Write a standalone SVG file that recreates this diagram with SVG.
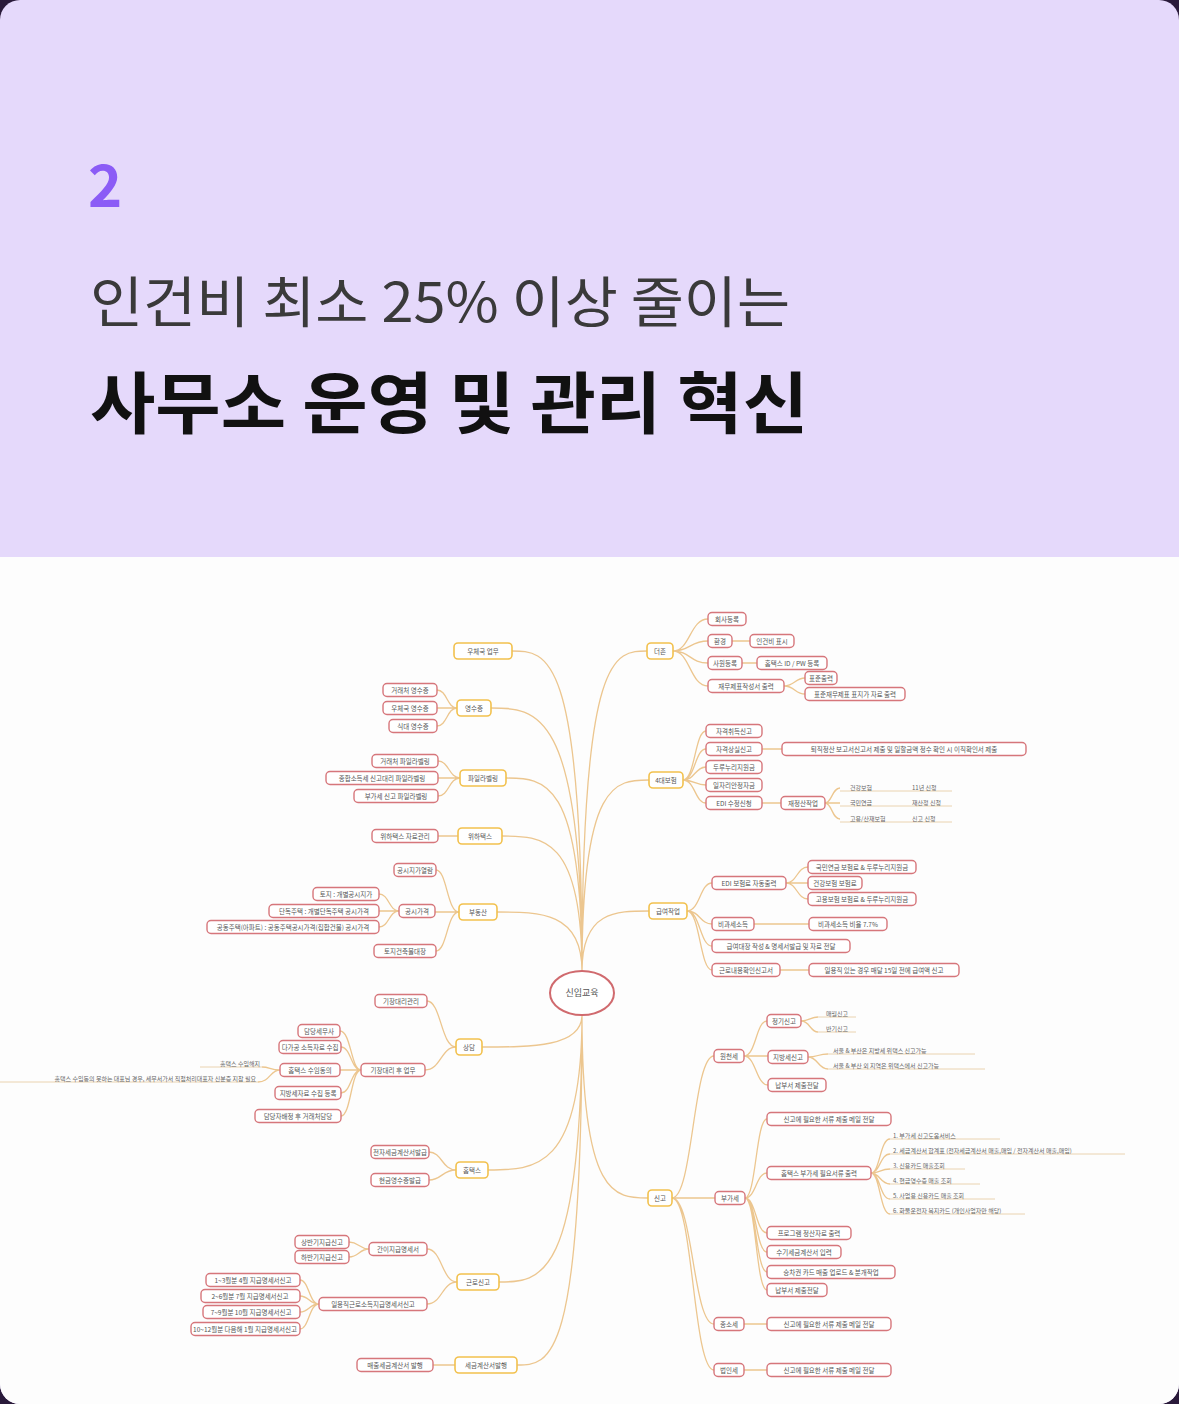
<svg xmlns="http://www.w3.org/2000/svg" width="1179" height="1404" viewBox="0 0 1179 1404">
<style>
.hd{font-family:"Noto Sans CJK KR",sans-serif}
.c{fill:none;stroke:#ecc68f;stroke-width:1.3}
.a rect{fill:#fff;stroke:#f2c14e;stroke-width:1.6}
.b rect{fill:#fff;stroke:#d6767b;stroke-width:1.4}
text.t{font-family:"Noto Sans CJK KR",sans-serif;font-size:6.5px;fill:#555;text-anchor:middle}
text.u{font-family:"Noto Sans CJK KR",sans-serif;font-size:6px;fill:#666}
.ul{stroke:#ead3b0;stroke-width:1}
</style>
<rect width="1179" height="1404" fill="#2a1a3a"/>
<rect width="1179" height="1404" rx="20" fill="#e5d9fb"/>
<path d="M0 557H1179V1384a20 20 0 0 1-20 20H20a20 20 0 0 1-20-20Z" fill="#fdfdfd"/>
<text class="hd" x="88" y="207" font-size="58" font-weight="700" fill="#8b5cf6">2</text>
<text class="hd" x="90" y="322" font-size="55" fill="#3a3a3a" textLength="700" lengthAdjust="spacingAndGlyphs">인건비 최소 25% 이상 줄이는</text>
<text class="hd" x="90" y="428" font-size="67" font-weight="700" fill="#111" textLength="718" lengthAdjust="spacingAndGlyphs">사무소 운영 및 관리 혁신</text>

<g id="connectors">
<path class="c" d="M582 971C582 651 547 651 512 651M582 971C582 708 536 708 491 708M582 971C582 778 544 778 506 778M582 971C582 836 542 836 502 836M582 971C582 912 540 912 497 912M582 1015C582 1047 532 1047 482 1047M582 1015C582 1170 535 1170 488 1170M582 1015C582 1282 540 1282 499 1282M582 1015C582 1365 550 1365 517 1365M582 971C582 651 615 651 647 651M582 971C582 780 616 780 649 780M582 971C582 911 616 911 649 911M582 1015C582 1198 615 1198 648 1198"/>
<path class="c" d="M673 651C690 651 690 619 708 619M673 651C690 651 690 641 708 641M673 651C690 651 690 663 708 663M673 651C690 651 690 686 708 686M732 641H750M742 663H757M784 686C795 686 795 678 805 678M784 686C795 686 795 694 805 694"/>
<path class="c" d="M683 780C695 780 695 731 706 731M683 780C695 780 695 749 706 749M683 780C695 780 695 767 706 767M683 780C695 780 695 785 706 785M683 780C695 780 695 803 706 803M762 749H782M762 803H781M825 803C832 803 832 788 840 788M825 803H840M825 803C832 803 832 819 840 819"/>
<path class="c" d="M687 911C700 911 700 883 712 883M687 911C700 911 700 924 712 924M687 911C700 911 700 946 712 946M687 911C700 911 700 970 712 970M786 883C797 883 797 867 808 867M786 883H808M786 883C797 883 797 899 808 899M754 924H809M780 970H809"/>
<path class="c" d="M672 1198C693 1198 693 1056 714 1056M744 1056C756 1056 756 1021 767 1021M744 1056H768M744 1056C756 1056 756 1085 768 1085M801 1021C810 1021 810 1017 818 1017M801 1021C810 1021 810 1032 818 1032M808 1057C818 1057 818 1054 828 1054M808 1057C818 1057 818 1069 828 1069"/>
<path class="c" d="M672 1198H715M745 1198C756 1198 756 1119 767 1119M745 1198C756 1198 756 1173 767 1173M745 1198C756 1198 756 1233 767 1233M745 1198C756 1198 756 1252 767 1252M745 1198C756 1198 756 1272 767 1272M745 1198C756 1198 756 1290 767 1290M871 1173C880 1173 880 1139 890 1139M871 1173C880 1173 880 1154 890 1154M871 1173C880 1173 880 1169 890 1169M871 1173C880 1173 880 1184 890 1184M871 1173C880 1173 880 1199 890 1199M871 1173C880 1173 880 1214 890 1214M672 1198C693 1198 693 1324 714 1324M672 1198C693 1198 693 1370 714 1370M744 1324H767M744 1370H767"/>
<path class="c" d="M457 708C447 708 447 690 437 690M457 708H437M457 708C447 708 447 726 437 726M460 778C449 778 449 761 438 761M460 778H438M460 778C449 778 449 796 438 796M458 836H438M459 912C447 912 447 870 436 870M459 912H435M459 912C447 912 447 951 436 951M399 911C389 911 389 894 379 894M399 911H379M399 911C389 911 389 927 379 927"/>
<path class="c" d="M456 1047C441 1047 441 1001 427 1001M456 1047C441 1047 441 1070 425 1070M361 1070C351 1070 351 1031 340 1031M361 1070C351 1070 351 1047 341 1047M361 1070H340M361 1070C351 1070 351 1093 341 1093M361 1070C351 1070 351 1116 341 1116M280 1070C270 1070 270 1067 262 1067M280 1070C270 1070 270 1082 258 1082"/>
<path class="c" d="M456 1170C442 1170 442 1152 429 1152M456 1170C442 1170 442 1180 429 1180M457 1282C442 1282 442 1249 427 1249M457 1282C442 1282 442 1304 427 1304M369 1249C359 1249 359 1242 349 1242M369 1249C359 1249 359 1257 349 1257M319 1304C309 1304 309 1280 300 1280M319 1304C309 1304 309 1296 300 1296M319 1304C309 1304 309 1312 300 1312M319 1304C309 1304 309 1329 300 1329M455 1365H433"/>
<path class="ul" d="M840 791H952M840 806H952M840 822H952M818 1017H856M818 1032H856M828 1054H975M828 1069H985M890 1139H1000M890 1154H1125M890 1169H965M890 1184H980M890 1199H995M890 1214H1025M262 1067H200M258 1082H0"/>
</g>

<g id="center"><ellipse cx="582" cy="993" rx="32" ry="22" fill="#fff" stroke="#d06a6e" stroke-width="2"/><text class="t" x="582" y="996" style="font-size:9px">신입교육</text></g>

<g id="n-post" class="a"><rect x="454" y="643" width="58" height="16" rx="4"/><text class="t" x="483" y="654">우체국 업무</text></g>
<g id="n-receipt" class="a"><rect x="457" y="700" width="34" height="16" rx="4"/><text class="t" x="474" y="711">영수증</text></g>
<g id="n-file" class="a"><rect x="460" y="770" width="46" height="16" rx="4"/><text class="t" x="483" y="781">파일라벨링</text></g>
<g id="n-wetax" class="a"><rect x="458" y="828" width="44" height="16" rx="4"/><text class="t" x="480" y="839">위하택스</text></g>
<g id="n-estate" class="a"><rect x="459" y="904" width="38" height="16" rx="4"/><text class="t" x="478" y="915">부동산</text></g>
<g id="n-consult" class="a"><rect x="456" y="1039" width="26" height="16" rx="4"/><text class="t" x="469" y="1050">상담</text></g>
<g id="n-hometax" class="a"><rect x="456" y="1162" width="32" height="16" rx="4"/><text class="t" x="472" y="1173">홈택스</text></g>
<g id="n-labor" class="a"><rect x="457" y="1274" width="42" height="16" rx="4"/><text class="t" x="478" y="1285">근로신고</text></g>
<g id="n-invoice" class="a"><rect x="455" y="1357" width="62" height="16" rx="4"/><text class="t" x="486" y="1368">세금계산서발행</text></g>
<g id="n-duzon" class="a"><rect x="647" y="643" width="26" height="16" rx="4"/><text class="t" x="660" y="654">더존</text></g>
<g id="n-ins" class="a"><rect x="649" y="772" width="34" height="16" rx="4"/><text class="t" x="666" y="783">4대보험</text></g>
<g id="n-pay" class="a"><rect x="649" y="903" width="38" height="16" rx="4"/><text class="t" x="668" y="914">급여작업</text></g>
<g id="n-report" class="a"><rect x="648" y="1190" width="24" height="16" rx="4"/><text class="t" x="660" y="1201">신고</text></g>

<g id="right-nodes" class="b">
<g id="r1"><rect x="708" y="612.5" width="38" height="13" rx="4"/><text class="t" x="727" y="621.5">회사등록</text></g>
<g id="r2"><rect x="708" y="634.5" width="24" height="13" rx="4"/><text class="t" x="720" y="643.5">환경</text></g>
<g id="r3"><rect x="750" y="634.5" width="44" height="13" rx="4"/><text class="t" x="772" y="643.5">인건비 표시</text></g>
<g id="r4"><rect x="708" y="656.5" width="34" height="13" rx="4"/><text class="t" x="725" y="665.5">사원등록</text></g>
<g id="r5"><rect x="757" y="656.5" width="70" height="13" rx="4"/><text class="t" x="792" y="665.5">홈택스 ID / PW 등록</text></g>
<g id="r6"><rect x="708" y="679.5" width="76" height="13" rx="4"/><text class="t" x="746" y="688.5">재무제표작성서 출력</text></g>
<g id="r7"><rect x="805" y="671.5" width="32" height="13" rx="4"/><text class="t" x="821" y="680.5">표준출력</text></g>
<g id="r8"><rect x="805" y="687.5" width="100" height="13" rx="4"/><text class="t" x="855" y="696.5">표준재무제표 표지가 자료 출력</text></g>
<g id="r9"><rect x="706" y="724.5" width="56" height="13" rx="4"/><text class="t" x="734" y="733.5">자격취득신고</text></g>
<g id="r10"><rect x="706" y="742.5" width="56" height="13" rx="4"/><text class="t" x="734" y="751.5">자격상실신고</text></g>
<g id="r11"><rect x="782" y="742.5" width="244" height="13" rx="4"/><text class="t" x="904" y="751.5">퇴직정산 보고서신고서 제출 및 일할금액 정수 확인 시 이직확인서 제출</text></g>
<g id="r12"><rect x="706" y="760.5" width="56" height="13" rx="4"/><text class="t" x="734" y="769.5">두루누리지원금</text></g>
<g id="r13"><rect x="706" y="778.5" width="56" height="13" rx="4"/><text class="t" x="734" y="787.5">일자리안정자금</text></g>
<g id="r14"><rect x="706" y="796.5" width="56" height="13" rx="4"/><text class="t" x="734" y="805.5">EDI 수정신청</text></g>
<g id="r15"><rect x="781" y="796.5" width="44" height="13" rx="4"/><text class="t" x="803" y="805.5">재정산작업</text></g>
<g id="r16"><rect x="712" y="876.5" width="74" height="13" rx="4"/><text class="t" x="749" y="885.5">EDI 보험료 자동출력</text></g>
<g id="r17"><rect x="808" y="860.5" width="108" height="13" rx="4"/><text class="t" x="862" y="869.5">국민연금 보험료 &amp; 두루누리지원금</text></g>
<g id="r18"><rect x="808" y="876.5" width="54" height="13" rx="4"/><text class="t" x="835" y="885.5">건강보험 보험료</text></g>
<g id="r19"><rect x="808" y="892.5" width="108" height="13" rx="4"/><text class="t" x="862" y="901.5">고용보험 보험료 &amp; 두루누리지원금</text></g>
<g id="r20"><rect x="712" y="917.5" width="42" height="13" rx="4"/><text class="t" x="733" y="926.5">비과세소득</text></g>
<g id="r21"><rect x="809" y="917.5" width="78" height="13" rx="4"/><text class="t" x="848" y="926.5">비과세소득 비율 7.7%</text></g>
<g id="r22"><rect x="712" y="939.5" width="138" height="13" rx="4"/><text class="t" x="781" y="948.5">급여대장 작성 &amp; 명세서발급 및 자료 전달</text></g>
<g id="r23"><rect x="712" y="963.5" width="68" height="13" rx="4"/><text class="t" x="746" y="972.5">근로내용확인신고서</text></g>
<g id="r24"><rect x="809" y="963.5" width="150" height="13" rx="4"/><text class="t" x="884" y="972.5">일용직 있는 경우 매달 15일 전에 급여액 신고</text></g>
<g id="r25"><rect x="714" y="1049.5" width="30" height="13" rx="4"/><text class="t" x="729" y="1058.5">원천세</text></g>
<g id="r26"><rect x="767" y="1014.5" width="34" height="13" rx="4"/><text class="t" x="784" y="1023.5">정기신고</text></g>
<g id="r27"><rect x="768" y="1050.5" width="40" height="13" rx="4"/><text class="t" x="788" y="1059.5">지방세신고</text></g>
<g id="r28"><rect x="768" y="1078.5" width="58" height="13" rx="4"/><text class="t" x="797" y="1087.5">납부서 제출전달</text></g>
<g id="r29"><rect x="715" y="1191.5" width="30" height="13" rx="4"/><text class="t" x="730" y="1200.5">부가세</text></g>
<g id="r30"><rect x="767" y="1112.5" width="124" height="13" rx="4"/><text class="t" x="829" y="1121.5">신고에 필요한 서류 제출 메일 전달</text></g>
<g id="r31"><rect x="767" y="1166.5" width="104" height="13" rx="4"/><text class="t" x="819" y="1175.5">홈택스 부가세 필요서류 출력</text></g>
<g id="r32"><rect x="767" y="1226.5" width="84" height="13" rx="4"/><text class="t" x="809" y="1235.5">프로그램 정산자료 출력</text></g>
<g id="r33"><rect x="767" y="1245.5" width="74" height="13" rx="4"/><text class="t" x="804" y="1254.5">수기세금계산서 입력</text></g>
<g id="r34"><rect x="767" y="1265.5" width="128" height="13" rx="4"/><text class="t" x="831" y="1274.5">승차권 카드 매출 업로드 &amp; 분개작업</text></g>
<g id="r35"><rect x="767" y="1283.5" width="60" height="13" rx="4"/><text class="t" x="797" y="1292.5">납부서 제출전달</text></g>
<g id="r36"><rect x="714" y="1317.5" width="30" height="13" rx="4"/><text class="t" x="729" y="1326.5">종소세</text></g>
<g id="r37"><rect x="767" y="1317.5" width="124" height="13" rx="4"/><text class="t" x="829" y="1326.5">신고에 필요한 서류 제출 메일 전달</text></g>
<g id="r38"><rect x="714" y="1363.5" width="30" height="13" rx="4"/><text class="t" x="729" y="1372.5">법인세</text></g>
<g id="r39"><rect x="767" y="1363.5" width="124" height="13" rx="4"/><text class="t" x="829" y="1372.5">신고에 필요한 서류 제출 메일 전달</text></g>
</g>

<g id="left-nodes" class="b">
<g id="l1"><rect x="383" y="683.5" width="54" height="13" rx="4"/><text class="t" x="410" y="692.5">거래처 영수증</text></g>
<g id="l2"><rect x="383" y="701.5" width="54" height="13" rx="4"/><text class="t" x="410" y="710.5">우체국 영수증</text></g>
<g id="l3"><rect x="389" y="719.5" width="48" height="13" rx="4"/><text class="t" x="413" y="728.5">식대 영수증</text></g>
<g id="l4"><rect x="372" y="754.5" width="66" height="13" rx="4"/><text class="t" x="405" y="763.5">거래처 파일라벨링</text></g>
<g id="l5"><rect x="326" y="771.5" width="112" height="13" rx="4"/><text class="t" x="382" y="780.5">종합소득세 신고대리 파일라벨링</text></g>
<g id="l6"><rect x="354" y="789.5" width="84" height="13" rx="4"/><text class="t" x="396" y="798.5">부가세 신고 파일라벨링</text></g>
<g id="l7"><rect x="372" y="829.5" width="66" height="13" rx="4"/><text class="t" x="405" y="838.5">위하택스 자료관리</text></g>
<g id="l8"><rect x="394" y="863.5" width="42" height="13" rx="4"/><text class="t" x="415" y="872.5">공시지가열람</text></g>
<g id="l9"><rect x="399" y="904.5" width="36" height="13" rx="4"/><text class="t" x="417" y="913.5">공시가격</text></g>
<g id="l10"><rect x="313" y="887.5" width="66" height="13" rx="4"/><text class="t" x="346" y="896.5">토지 : 개별공시지가</text></g>
<g id="l11"><rect x="269" y="904.5" width="110" height="13" rx="4"/><text class="t" x="324" y="913.5">단독주택 : 개별단독주택 공시가격</text></g>
<g id="l12"><rect x="207" y="920.5" width="172" height="13" rx="4"/><text class="t" x="293" y="929.5">공동주택(아파트) : 공동주택공시가격(집합건물) 공시가격</text></g>
<g id="l13"><rect x="374" y="944.5" width="62" height="13" rx="4"/><text class="t" x="405" y="953.5">토지건축물대장</text></g>
<g id="l14"><rect x="375" y="994.5" width="52" height="13" rx="4"/><text class="t" x="401" y="1003.5">기장대리관리</text></g>
<g id="l15"><rect x="361" y="1063.5" width="64" height="13" rx="4"/><text class="t" x="393" y="1072.5">기장대리 후 업무</text></g>
<g id="l16"><rect x="298" y="1024.5" width="42" height="13" rx="4"/><text class="t" x="319" y="1033.5">담당세무사</text></g>
<g id="l17"><rect x="279" y="1040.5" width="62" height="13" rx="4"/><text class="t" x="310" y="1049.5">다가공 소득자료 수집</text></g>
<g id="l18"><rect x="280" y="1063.5" width="60" height="13" rx="4"/><text class="t" x="310" y="1072.5">홈택스 수임동의</text></g>
<g id="l19"><rect x="275" y="1086.5" width="66" height="13" rx="4"/><text class="t" x="308" y="1095.5">지방세자료 수집 등록</text></g>
<g id="l20"><rect x="255" y="1109.5" width="86" height="13" rx="4"/><text class="t" x="298" y="1118.5">담당자배정 후 거래처담당</text></g>
<g id="l21"><rect x="371" y="1145.5" width="58" height="13" rx="4"/><text class="t" x="400" y="1154.5">전자세금계산서발급</text></g>
<g id="l22"><rect x="371" y="1173.5" width="58" height="13" rx="4"/><text class="t" x="400" y="1182.5">현금영수증발급</text></g>
<g id="l23"><rect x="369" y="1242.5" width="58" height="13" rx="4"/><text class="t" x="398" y="1251.5">간이지급명세서</text></g>
<g id="l24"><rect x="295" y="1235.5" width="54" height="13" rx="4"/><text class="t" x="322" y="1244.5">상반기지급신고</text></g>
<g id="l25"><rect x="295" y="1250.5" width="54" height="13" rx="4"/><text class="t" x="322" y="1259.5">하반기지급신고</text></g>
<g id="l26"><rect x="319" y="1297.5" width="108" height="13" rx="4"/><text class="t" x="373" y="1306.5">일용직근로소득지급명세서신고</text></g>
<g id="l27"><rect x="206" y="1273.5" width="94" height="13" rx="4"/><text class="t" x="253" y="1282.5">1~3월분 4월 지급명세서신고</text></g>
<g id="l28"><rect x="201" y="1289.5" width="99" height="13" rx="4"/><text class="t" x="250" y="1298.5">2~6월분 7월 지급명세서신고</text></g>
<g id="l29"><rect x="203" y="1305.5" width="97" height="13" rx="4"/><text class="t" x="251" y="1314.5">7~9월분 10월 지급명세서신고</text></g>
<g id="l30"><rect x="191" y="1322.5" width="109" height="13" rx="4"/><text class="t" x="245" y="1331.5">10~12월분 다음해 1월 지급명세서신고</text></g>
<g id="l31"><rect x="357" y="1358.5" width="76" height="13" rx="4"/><text class="t" x="395" y="1367.5">매출세금계산서 발행</text></g>
</g>

<g id="leaf-texts">
<text class="u" x="850" y="790">건강보험</text><text class="u" x="912" y="790">11년 신청</text>
<text class="u" x="850" y="805">국민연금</text><text class="u" x="912" y="805">재산정 신청</text>
<text class="u" x="850" y="821">고용/산재보험</text><text class="u" x="912" y="821">신고 신청</text>
<text class="u" x="826" y="1016">매월신고</text>
<text class="u" x="826" y="1031">반기신고</text>
<text class="u" x="833" y="1053">서울 &amp; 부산은 지방세 위택스 신고가능</text>
<text class="u" x="833" y="1068">서울 &amp; 부산 외 지역은 위택스에서 신고가능</text>
<text class="u" x="893" y="1138">1. 부가세 신고도움서비스</text>
<text class="u" x="893" y="1153">2. 세금계산서 합계표 (전자세금계산서 매출,매입 / 전자계산서 매출,매입)</text>
<text class="u" x="893" y="1168">3. 신용카드 매출조회</text>
<text class="u" x="893" y="1183">4. 현금영수증 매출 조회</text>
<text class="u" x="893" y="1198">5. 사업용 신용카드 매출 조회</text>
<text class="u" x="893" y="1213">6. 화물운전자 복지카드 (개인사업자만 해당)</text>
<text class="u" x="260" y="1066" text-anchor="end">홈택스 수임해지</text>
<text class="u" x="256" y="1081" text-anchor="end">홈택스 수임동의 못하는 대표님 경우, 세무서가서 직접처리대표자 신분증 지참 필요</text>
</g>
</svg>
